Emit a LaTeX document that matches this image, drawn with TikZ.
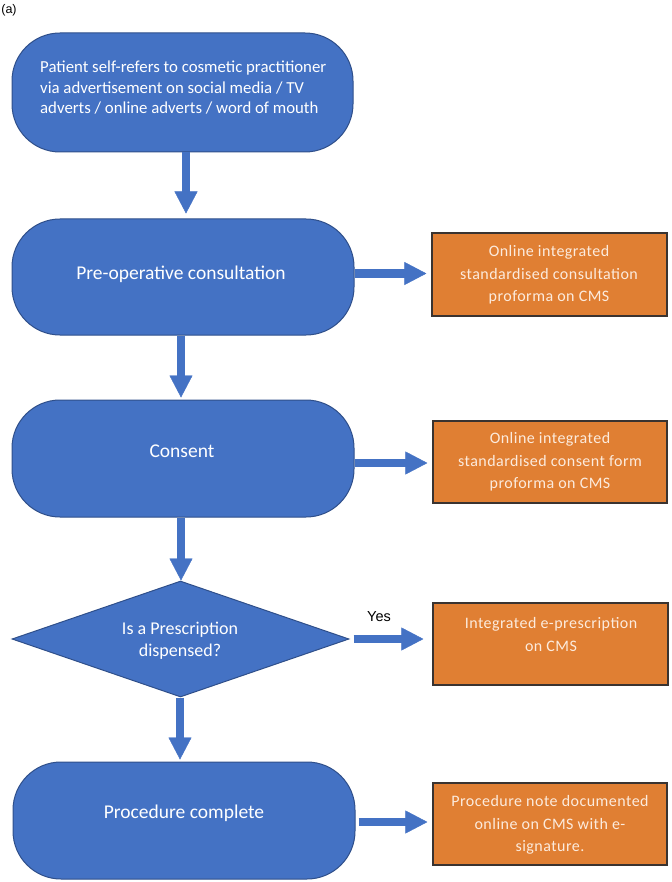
\documentclass[tikz,border=0pt]{standalone}
\usepackage{fontspec}
\setmainfont{Carlito}
\newfontfamily\arialf{Liberation Sans}
\newfontfamily\orfont[LetterSpace=3]{Carlito}
\usetikzlibrary{shapes.geometric,arrows.meta}
\definecolor{boxblue}{HTML}{4472C4}
\definecolor{blueedge}{HTML}{2F4F8A}
\definecolor{orfill}{HTML}{E07F33}
\definecolor{oredge}{HTML}{3A3330}
\definecolor{ortext}{HTML}{FCEBDD}
\begin{document}
\begin{tikzpicture}[x=1pt,y=-1pt,
  bluebox/.style={rectangle, draw=blueedge, fill=boxblue, line width=1pt, rounded corners=48pt, inner sep=0pt},
  decbox/.style={diamond, draw=blueedge, fill=boxblue, line width=1pt, inner sep=0pt, aspect=2.9},
  orbox/.style={rectangle, draw=oredge, fill=orfill, line width=1.2pt, inner sep=0pt, minimum width=234pt, minimum height=82pt},
  bluetxt/.style={text=white, inner sep=0pt, align=center, font=\fontsize{19.5}{23.8}\selectfont},
  ortxt/.style={text=ortext, inner sep=0pt, align=center, font=\orfont\fontsize{16}{22.5}\selectfont},
  flow/.style={draw=boxblue, line width=8pt, line cap=butt, -{Triangle[width=23pt,length=22pt,line width=0.4pt]}}
]
\useasboundingbox (0,0) rectangle (671,882);

% blue boxes
\node[bluebox, minimum width=341pt, minimum height=119pt] (b1) at (182.5,92.5) {};
\node[bluebox, minimum width=342pt, minimum height=116pt] (b2) at (183,277) {};
\node[bluebox, minimum width=342pt, minimum height=117pt] (b3) at (183,458.5) {};
\node[decbox, minimum width=337pt, minimum height=116pt] (d) at (180.5,639) {};
\node[bluebox, minimum width=342pt, minimum height=117pt] (b5) at (184,820.5) {};

% orange boxes
\node[orbox, minimum width=235pt, minimum height=83pt] (o1) at (549.5,274.5) {};
\node[orbox] (o2) at (550,462) {};
\node[orbox, minimum width=235pt] (o3) at (550.5,644) {};
\node[orbox] (o4) at (550,824) {};

% texts
\node[text=white, inner sep=0pt, anchor=west, align=left, font=\fontsize{16.8}{20.5}\selectfont] (t1) at (40,88)
  {Patient self-refers to cosmetic practitioner\\via advertisement on social media / TV\\adverts / online adverts / word of mouth};
\node[bluetxt] (t2) at (181,274) {Pre-operative consultation};
\node[bluetxt] (t3) at (182,451) {Consent};
\node[text=white, inner sep=0pt, align=center, font=\fontsize{18}{22}\selectfont] (td) at (180,641) {Is a Prescription\\dispensed?};
\node[bluetxt] (t5) at (184,813) {Procedure complete};

\node[ortxt] (q1) at (549,275) {Online integrated\\standardised consultation\\proforma on CMS};
\node[ortxt] (q2) at (550,462) {Online integrated\\standardised consent form\\proforma on CMS};
\node[ortxt] (q3) at (551,634.5) {Integrated e-prescription\\on CMS};
\node[ortxt] (q4) at (550,825) {Procedure note documented\\online on CMS with e-\\signature.};

\node[inner sep=0pt, font=\arialf\fontsize{14.5}{17}\selectfont] (yes) at (379,617) {Yes};
\node[inner sep=0pt, font=\arialf\fontsize{12.5}{15}\selectfont] (lab) at (9,10) {(a)};

% vertical connectors
\draw[flow, shorten >=5pt] ([xshift=3.5pt]b1.south) -- ([xshift=3.5pt]b1.south |- b2.north);
\draw[flow, shorten >=2pt] ([xshift=-2pt]b2.south) -- ([xshift=-2pt]b2.south |- b3.north);
\draw[flow] ([xshift=-2pt]b3.south) -- ([xshift=-2pt]b3.south |- d.north);
\draw[flow, shorten >=2pt] ([xshift=-0.5pt]d.south) -- ([xshift=-0.5pt]d.south |- b5.north);

% horizontal connectors
\draw[flow, shorten >=5pt] ([yshift=1pt]b2.east |- o1.west) -- ([yshift=1pt]o1.west);
\draw[flow, shorten >=5pt] ([yshift=-1pt]b3.east |- o2.west) -- ([yshift=-1pt]o2.west);
\draw[flow, shorten <=4pt, shorten >=9pt] (d.east) -- (d.east -| o3.west);
\draw[flow, shorten <=3pt, shorten >=5pt] ([yshift=-1.5pt]b5.east) -- ([yshift=-1.5pt]b5.east -| o4.west);
\end{tikzpicture}
\end{document}
